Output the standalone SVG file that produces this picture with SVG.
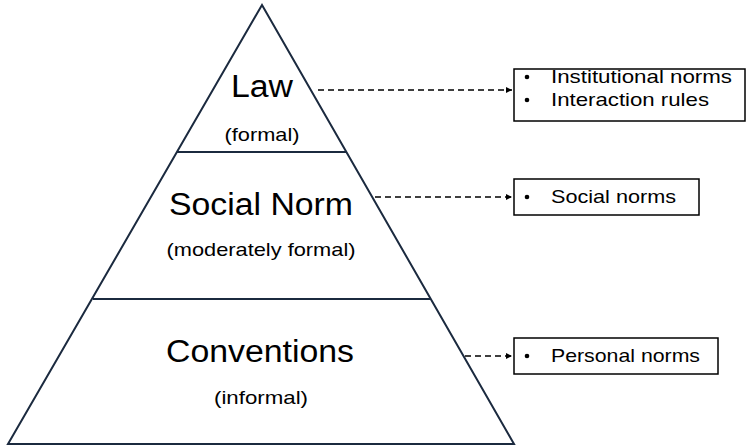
<svg xmlns="http://www.w3.org/2000/svg" width="746" height="447" viewBox="0 0 746 447">
<style>
.tri{fill:none;stroke:#1b2a3f;stroke-width:2;stroke-linejoin:miter}
.box{fill:#fff;stroke:#000;stroke-width:1.5}
.big{font-family:"Liberation Sans",Arial,sans-serif;font-size:31px;fill:#000;text-anchor:middle}
.sub{font-family:"Liberation Sans",Arial,sans-serif;font-size:19px;fill:#000;text-anchor:middle}
.item{font-family:"Liberation Sans",Arial,sans-serif;font-size:18.5px;fill:#000}
.dash{fill:none;stroke:#000;stroke-width:1.5;stroke-dasharray:6 4}
</style>
<defs>
<marker id="ah" viewBox="0 0 10 10" refX="10" refY="5" markerWidth="6" markerHeight="6" markerUnits="userSpaceOnUse" orient="auto">
<path d="M0,0 L10,5 L0,10 z" fill="#000"/>
</marker>
</defs>
<rect width="746" height="447" fill="#fff"/>
<g id="pyramid">
<path class="tri" d="M262,5 L514,444 L8,444 Z"/>
<line class="tri" x1="177" y1="152" x2="347" y2="152"/>
<line class="tri" x1="93" y1="299" x2="431" y2="299"/>
</g>
<g id="law">
<text class="big" x="262" y="97" textLength="62" lengthAdjust="spacingAndGlyphs">Law</text>
<text class="sub" x="262" y="141" textLength="75" lengthAdjust="spacingAndGlyphs">(formal)</text>
</g>
<g id="social-norm">
<text class="big" x="261" y="215" textLength="184" lengthAdjust="spacingAndGlyphs">Social Norm</text>
<text class="sub" x="261" y="256" textLength="189" lengthAdjust="spacingAndGlyphs">(moderately formal)</text>
</g>
<g id="conventions">
<text class="big" x="260" y="362" textLength="188" lengthAdjust="spacingAndGlyphs">Conventions</text>
<text class="sub" x="261" y="404" textLength="94" lengthAdjust="spacingAndGlyphs">(informal)</text>
</g>
<g id="box-law">
<rect class="box" x="514" y="69" width="231" height="52"/>
<circle cx="527" cy="77" r="2.3"/>
<circle cx="527" cy="100" r="2.3"/>
<text class="item" x="551" y="83" textLength="181" lengthAdjust="spacingAndGlyphs">Institutional norms</text>
<text class="item" x="551" y="106" textLength="158" lengthAdjust="spacingAndGlyphs">Interaction rules</text>
</g>
<g id="box-social">
<rect class="box" x="514" y="179" width="185" height="36"/>
<circle cx="527" cy="197" r="2.3"/>
<text class="item" x="551" y="203" textLength="125" lengthAdjust="spacingAndGlyphs">Social norms</text>
</g>
<g id="box-personal">
<rect class="box" x="514" y="338" width="204" height="36"/>
<circle cx="527" cy="356" r="2.3"/>
<text class="item" x="551" y="362" textLength="149" lengthAdjust="spacingAndGlyphs">Personal norms</text>
</g>
<g id="connectors">
<line class="dash" x1="318" y1="90" x2="512" y2="90" marker-end="url(#ah)"/>
<line class="dash" x1="375" y1="197" x2="512" y2="197" marker-end="url(#ah)"/>
<line class="dash" x1="465" y1="356" x2="512" y2="356" marker-end="url(#ah)"/>
</g>
</svg>
